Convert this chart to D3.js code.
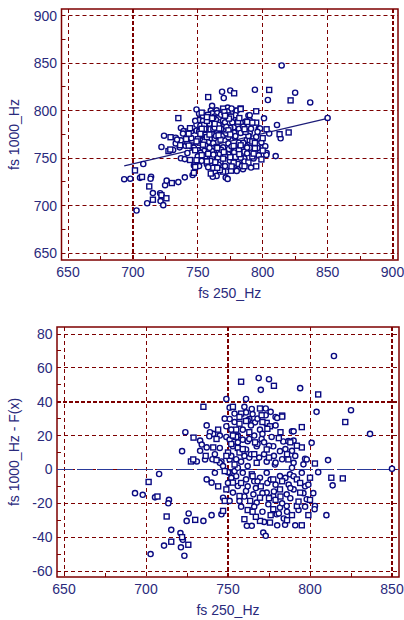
<!DOCTYPE html>
<html>
<head>
<meta charset="utf-8">
<script src="https://cdn.jsdelivr.net/npm/d3@7"></script>
<style>
  body { margin: 0; background: #fff; }
  svg text { font-family: Arial, "Liberation Sans", sans-serif; fill: #2a2a7c; font-size: 14px; }
</style>
</head>
<body>
<svg id="chart" width="404" height="620"></svg>
<script>
// fs 250_Hz values (x axis is shared by both panels)
const fs250 = [
  814.6, 758, 768.7, 775, 778, 770, 794, 805, 749, 761, 735, 804, 825, 821.5, 836.6, 779, 783, 737, 724, 795,
  789, 722, 729, 733, 801, 727.4, 731, 736, 743, 746, 797, 803, 811, 850, 795, 789, 783.7, 788, 741, 739,
  744, 737, 733, 736.4, 740.5, 751, 753, 760, 764.5, 769.5, 773, 754, 758, 761, 765, 770.5, 773, 780, 783, 751,
  754, 761, 763, 766.5, 773.6, 749, 752, 755, 759, 769.5, 775.6, 790, 738.6, 743, 749, 751, 755, 759, 762, 766.5,
  770.5, 776.6, 781, 786.8, 734, 741, 745, 753, 756, 761, 767.5, 773.6, 777.6, 781.7, 728.8, 745, 751, 754, 758, 762,
  767.5, 773.6, 778.6, 786.8, 790, 798, 813, 813.8, 805, 800, 737, 740, 748, 751, 754, 753, 756, 761, 764.5, 769.5,
  773.6, 777.6, 781.7, 787.8, 792, 795, 753, 757, 761, 765.5, 769.5, 773.6, 777.6, 781.7, 785.8, 790, 794, 798, 747, 748,
  751, 757, 763.5, 767.5, 774.6, 777.6, 781.7, 785.8, 792, 803, 810, 747, 746, 740, 730, 735, 724.8, 760, 764.5, 761.5,
  769.5, 771.5, 773, 775.6, 784.8, 791, 795, 693.3, 698, 701.6, 708, 705.5, 707, 714, 713.6, 712.6, 715.4, 711, 715.4, 702.8,
  721, 722, 722.5, 721.3, 725.8, 723.4, 726, 749, 750, 742, 820, 802.8, 779.7,
  750, 752, 755, 757, 760, 763, 766, 769, 772, 775, 778, 783, 786, 791, 755, 758, 762, 766, 770, 774,
  779, 783, 787, 790, 794, 797, 758, 762, 766, 771, 776, 781, 786, 789, 793, 797, 800, 802, 756, 763,
  766, 771, 757, 768, 776, 752, 756, 764, 779, 788, 784, 767, 772, 780, 799, 796,
  747, 749, 752, 756, 759, 760, 763, 765, 768, 771, 774, 776, 779, 782, 785, 788, 792, 745, 748, 757,
  764, 767, 771, 775, 778, 782, 785, 789, 793, 796, 750, 753, 759, 762, 765, 768, 772, 775, 779, 783,
  786, 790, 799, 744, 742
];
// fs 1000_Hz - F(x)
const resid = [
  67, 51.8, 54, 53.3, 49.4, 47, 48, 44.3, 41.6, 41.6, 37, 34, 35, 28, 21, 31, 31.8, 26, 22, 25,
  22.5, 10.8, 18.8, 17, 15.7, 4.7, 4.7, 5.9, 5.5, 4.7, 6.3, 3.5, 5.5, 0.4, 13, 11, 16.5, 16, 21, 22,
  23.5, 13, 11, 8, 6, 36.5, 37, 37, 35.7, 36, 36, 33, 33, 33.7, 32.7, 32, 32, 30.4, 31.2, 29.8,
  28, 28.6, 29.8, 27.8, 27.5, 25.5, 23.5, 23.5, 23.5, 23.5, 25.5, 22.5, 19.6, 18, 19.2, 17.6, 19.2, 17.6, 16.7, 16,
  18, 19.2, 18.5, 16.7, 14.7, 13, 12.7, 13.7, 12.7, 11.8, 13.7, 11.8, 13.7, 10.8, 5.9, 3.9, 5.9, 2.9, 4.6, 2,
  3.9, 4.6, 2.9, 5.9, 3.9, 5.9, -4.9, -9.4, -1.6, -4.9, -5.9, -7.8, -1, -2, -1, -7.8, -9.8, -5.9, -2.9, -4.9,
  -2, -5.9, -3.9, -2.9, -5.9, -2, -13.7, -15.7, -12.7, -14.7, -16.7, -13.7, -15.7, -11.8, -14.7, -11.8, -13.7, -17.6, -16.7, -18.6,
  -18.6, -18.6, -18.6, -19.6, -20.6, -23.5, -22.5, -21.6, -21.6, -21.6, -27, -24.5, -26.5, -27, -29.8, -30.4, -30.4, -29.4, -33.3, -33.3,
  -30.4, -37.3, -39.2, -31.4, -32.7, -33, -33, -14, -15, -7.4, -2.7, -16.5, -16, -18, -20, -27.8, -35.7, -45, -42.7, -50,
  -37.6, -40, -41.6, -46, -44.5, -51, -26, -11.8, -1.6, -2, -5.3, -23.5, -26.5,
  10, 8, 6, 10, 8, 7, 9, 7, 9, 7, 8, 6, 9, 8, -4, -8, -10, -7, -10, -8,
  -9, -7, -9, -4, -8, -10, -22, -24, -22, -25, -27, -26, -25, -27, -24, -22, -18, -14, 20, 22,
  20, 21, 27, 30, 34, 15, 16, 26, -18, -17, -29, -28, -31, -33, -27, -14,
  2, 8, -5, 1, 12, -16, 18, -4, 15, -14, 24, -6, 4, -16, 12, -11, 14, 20, 30, 31,
  9, -11, 28, 14, -13, 22, -5, 1, -19, 3, -8, 20, -2, 29, -25, -7, 16, -17, 26, -20,
  -30, 17, -9, -10, 9
];

// regression line F(x) = a + b*x
const fitIntercept = 519.9;
const fitSlope = 0.32;

const topXTicks = [650, 700, 750, 800, 850, 900];
const topYTicks = [650, 700, 750, 800, 850, 900];
const botXTicks = [650, 700, 750, 800, 850];
const botYTicks = [-60, -40, -20, 0, 20, 40, 60, 80];

const fit = x => fitIntercept + fitSlope * x;
// upper panel values: fitted value plus residual
const fs1000 = fs250.map((x, i) => fit(x) + resid[i]);

const gridColor = '#7d0000';
const markColor = '#0a0a82';
const svg = d3.select('#chart');
const crisp = v => Math.round(v - 0.5) + 0.5;

function drawPanel(cfg) {
  const x = d3.scaleLinear().domain(cfg.xDomain).range(cfg.xRange);
  const y = d3.scaleLinear().domain(cfg.yDomain).range(cfg.yRange);
  const L = cfg.xRange[0] - cfg.pad[0], R = cfg.xRange[1] + cfg.pad[1];
  const T = cfg.yRange[1] - cfg.pad[2], B = cfg.yRange[0] + cfg.pad[3];
  const g = svg.append('g');

  // grid
  cfg.xTicks.forEach(t => {
    const major = cfg.xMajor.includes(t);
    const px = major ? Math.round(x(t)) : crisp(x(t));
    g.append('line')
      .attr('x1', px).attr('x2', px).attr('y1', T).attr('y2', B)
      .attr('stroke', gridColor)
      .attr('stroke-width', major ? 2 : 1)
      .attr('stroke-dasharray', major ? '4,2' : '4,3');
  });
  cfg.yTicks.forEach(t => {
    const major = cfg.yMajor.includes(t);
    const py = major ? Math.round(y(t)) : crisp(y(t));
    g.append('line')
      .attr('x1', L).attr('x2', R).attr('y1', py).attr('y2', py)
      .attr('stroke', gridColor)
      .attr('stroke-width', major ? 2 : 1)
      .attr('stroke-dasharray', major ? '4,2' : '4,3');
  });

  // minor ticks on left and bottom edge
  d3.pairs(cfg.xTicks).forEach(([a, b]) => {
    const m = crisp(x((a + b) / 2));
    g.append('line').attr('x1', m).attr('x2', m).attr('y1', B).attr('y2', B - 4)
      .attr('stroke', gridColor).attr('stroke-width', 1);
  });
  d3.pairs(cfg.yTicks).forEach(([a, b]) => {
    const m = crisp(y((a + b) / 2));
    g.append('line').attr('x1', L).attr('x2', L + 4).attr('y1', m).attr('y2', m)
      .attr('stroke', gridColor).attr('stroke-width', 1);
  });

  // frame
  g.append('rect')
    .attr('x', L).attr('y', T).attr('width', R - L).attr('height', B - T)
    .attr('fill', 'none').attr('stroke', gridColor).attr('stroke-width', 1.5);

  if (cfg.extra) cfg.extra(g, x, y);

  // markers
  const pts = cfg.xs.map((v, i) => ({ x: v, y: cfg.ys[i], i }));
  g.append('g').selectAll('circle')
    .data(pts.filter(d => d.i % 3 !== 1))
    .enter().append('circle')
    .attr('cx', d => x(d.x)).attr('cy', d => y(d.y)).attr('r', 2.6)
    .attr('fill', '#fff').attr('stroke', markColor).attr('stroke-width', 1.4);
  g.append('g').selectAll('rect')
    .data(pts.filter(d => d.i % 3 === 1))
    .enter().append('rect')
    .attr('x', d => x(d.x) - 2.5).attr('y', d => y(d.y) - 2.5)
    .attr('width', 5).attr('height', 5)
    .attr('fill', '#fff').attr('stroke', markColor).attr('stroke-width', 1.4);

  // tick labels
  g.selectAll('.xl').data(cfg.xTicks).enter().append('text')
    .attr('x', d => x(d)).attr('y', B + 17)
    .attr('text-anchor', 'middle').text(d => d);
  g.selectAll('.yl').data(cfg.yTicks).enter().append('text')
    .attr('x', L - 4.5).attr('y', d => y(d)).attr('dy', '0.36em')
    .attr('text-anchor', 'end').text(d => d);

  // titles
  g.append('text').attr('x', (L + R) / 2).attr('y', B + 38)
    .attr('text-anchor', 'middle').text(cfg.xTitle);
  g.append('text')
    .attr('transform', `translate(19, ${(T + B) / 2}) rotate(-90)`)
    .attr('text-anchor', 'middle').text(cfg.yTitle);
}

drawPanel({
  xDomain: [650, 900], xRange: [68, 392.5],
  yDomain: [650, 900], yRange: [253, 15.7],
  pad: [6.5, 5.5, 6.7, 7],
  xTicks: topXTicks, yTicks: topYTicks,
  xMajor: [700, 900], yMajor: [],
  xs: fs250, ys: fs1000,
  xTitle: 'fs 250_Hz', yTitle: 'fs 1000_Hz',
  extra: (g, x, y) => {
    const ext = d3.extent(fs250);
    g.append('path')
      .datum(ext)
      .attr('d', d3.line().x(d => x(d)).y(d => y(fit(d))))
      .attr('fill', 'none').attr('stroke', '#1c1c78').attr('stroke-width', 1.2);
  }
});

drawPanel({
  xDomain: [650, 850], xRange: [64, 392],
  yDomain: [-60, 80], yRange: [571, 334],
  pad: [7, 7, 7, 6],
  xTicks: botXTicks, yTicks: botYTicks,
  xMajor: [750, 850], yMajor: [40],
  xs: fs250, ys: resid,
  xTitle: 'fs 250_Hz', yTitle: 'fs 1000_Hz - F(x)',
  extra: (g, x, y) => {
    g.append('line')
      .attr('x1', x.range()[0] - 7).attr('x2', x.range()[1] + 7)
      .attr('y1', crisp(y(0))).attr('y2', crisp(y(0)))
      .attr('stroke', '#2a3a9a').attr('stroke-width', 1.1)
      .attr('stroke-dasharray', '16,4');
  }
});
</script>
</body>
</html>
